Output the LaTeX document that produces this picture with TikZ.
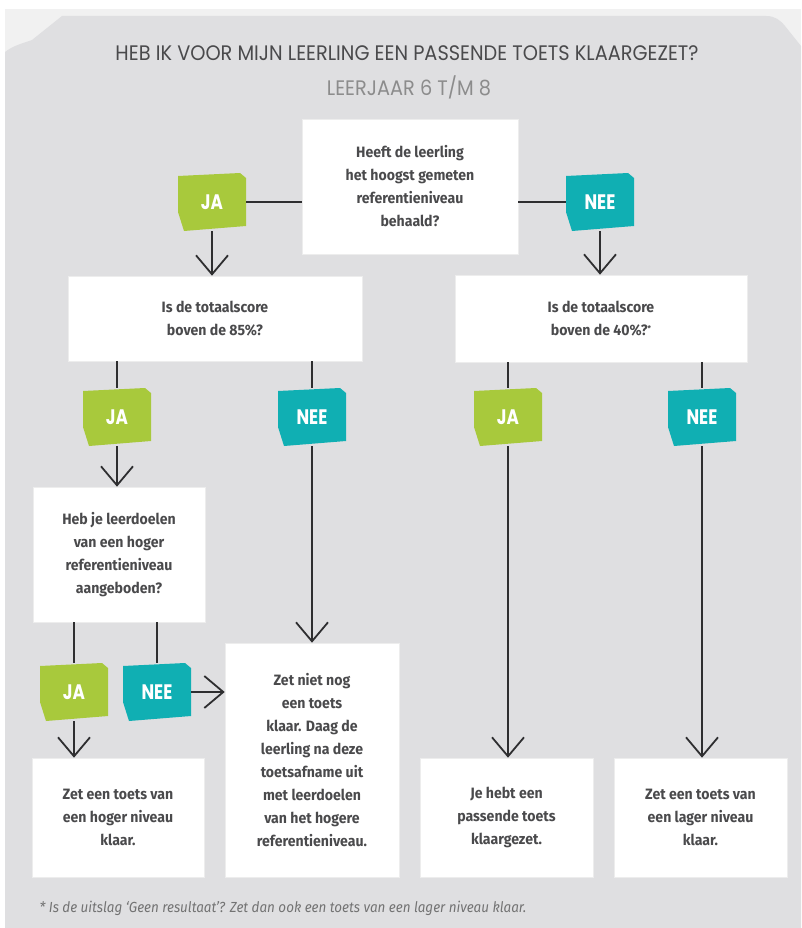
\documentclass[tikz,border=0pt]{standalone}
\usepackage{fontspec}
\setmainfont{Fira Sans}[FakeStretch=0.94]
\newfontfamily\titlefont{Poppins}[FakeStretch=0.92]
\newfontfamily\tagfont{Poppins}[FakeStretch=0.8]
\newfontfamily\notefont{Fira Sans}[FakeStretch=0.92]
\usetikzlibrary{arrows.meta,calc}
\definecolor{outerbg}{HTML}{F1F1F1}
\definecolor{innerbg}{HTML}{DFDFE1}
\definecolor{jagreen}{HTML}{A8C93C}
\definecolor{neeteal}{HTML}{10AFB3}
\definecolor{txt}{HTML}{4A4A4C}
\definecolor{ln}{HTML}{2E2E30}
\tikzset{
  qbox/.style={fill=white, draw=black!7, line width=0.6pt, inner sep=0pt, align=center,
    text=txt, font=\fontsize{15}{23}\selectfont\bfseries},
  tagtext/.style={inner sep=0pt, minimum width=68pt, minimum height=58pt,
    text=white, font=\tagfont\fontsize{21}{21}\selectfont\bfseries},
  conn/.style={draw=ln, line width=1.8pt},
  arr/.style={conn, -{Straight Barb[length=19pt,width=32pt,line width=1.8pt]}},
}
\newcommand\flowtag[4]{%
  \fill[#4] ($(#2)+(-34,-26)$) -- ($(#2)+(28,-29)$) -- ($(#2)+(34,-24)$) -- ($(#2)+(34,24)$)
     -- ($(#2)+(-28,29)$) -- ($(#2)+(-34,10)$) -- cycle;
  \node[tagtext] (#1) at (#2) {#3};}
\begin{document}
\begin{tikzpicture}[x=1pt,y=-1pt]
\useasboundingbox (0,0) rectangle (801,928);
\fill[white] (0,0) rectangle (801,928);
\fill[outerbg] (5,9) rectangle (801,928);
\fill[innerbg] (5,52) .. controls (14,45) and (24,43) .. (32,40) -- (62,16) -- (766,16)
  .. controls (775,16) and (780,20) .. (785,26) -- (801,46) -- (801,928) -- (5,928) -- cycle;

\node[text=txt, font=\titlefont\fontsize{21}{21}\selectfont] (title) at (407,53)
  {HEB IK VOOR MIJN LEERLING EEN PASSENDE TOETS KLAARGEZET?};
\node[text=black!45, font=\titlefont\fontsize{21}{21}\selectfont] (sub) at (409,87)
  {LEERJAAR 6 T/M 8};

\node[qbox, minimum width=216pt, minimum height=135pt] (q1) at (410,186.5)
  {Heeft de leerling\\het hoogst gemeten\\referentieniveau\\behaald?};
\node[qbox, minimum width=294pt, minimum height=85pt] (q2) at (215,318.5)
  {Is de totaalscore\\boven de 85\%?};
\node[qbox, minimum width=292pt, minimum height=87pt] (q3) at (601,318.5)
  {Is de totaalscore\\boven de 40\%?\raisebox{0.45ex}{\fontsize{8}{8}\selectfont*}};
\node[qbox, minimum width=172pt, minimum height=135pt] (q4) at (119,554.5)
  {Heb je leerdoelen\\van een hoger\\referentieniveau\\aangeboden?};
\node[qbox, minimum width=174pt, minimum height=234pt] (r1) at (312,760)
  {Zet niet nog\\een toets\\klaar. Daag de\\leerling na deze\\toetsafname uit\\met leerdoelen\\van het hogere\\referentieniveau.};
\node[qbox, minimum width=172pt, minimum height=119pt] (r2) at (118,817.5)
  {Zet een toets van\\een hoger niveau\\klaar.};
\node[qbox, minimum width=173pt, minimum height=119pt] (r3) at (506.5,817.5)
  {Je hebt een\\passende toets\\klaargezet.};
\node[qbox, minimum width=173pt, minimum height=119pt] (r4) at (700.5,817.5)
  {Zet een toets van\\een lager niveau\\klaar.};

\flowtag{ja1}{212,202}{JA}{jagreen}
\flowtag{nee1}{600,202}{NEE}{neeteal}
\flowtag{ja2}{117,417}{JA}{jagreen}
\flowtag{nee2}{312,417}{NEE}{neeteal}
\flowtag{ja3}{508,417}{JA}{jagreen}
\flowtag{nee3}{702,417}{NEE}{neeteal}
\flowtag{ja4}{74,692}{JA}{jagreen}
\flowtag{nee4}{157,692}{NEE}{neeteal}

% top level
\draw[conn] (ja1.east) -- (ja1.east -| q1.west);
\draw[conn] (nee1.west) -- (nee1.west -| q1.east);
\draw[arr] (ja1.south) -- (ja1.south |- q2.north);
\draw[arr] (nee1.south) -- (nee1.south |- q3.north);
% second level
\draw[conn] (ja2.north |- q2.south) -- (ja2.north);
\draw[conn] (nee2.north |- q2.south) -- (nee2.north);
\draw[conn] (ja3.north |- q3.south) -- (ja3.north);
\draw[conn] (nee3.north |- q3.south) -- (nee3.north);
\draw[arr] (ja2.south) -- (ja2.south |- q4.north);
\draw[arr] (nee2.south) -- (nee2.south |- r1.north);
\draw[arr] (ja3.south) -- (ja3.south |- r3.north);
\draw[arr] (nee3.south) -- (nee3.south |- r4.north);
% third level
\draw[conn] (ja4.north |- q4.south) -- (ja4.north);
\draw[conn] (nee4.north |- q4.south) -- (nee4.north);
\draw[arr] (ja4.south) -- (ja4.south |- r2.north);
\draw[arr] (nee4.east) -- (nee4.east -| r1.west);

\node[anchor=west, text=black!55, font=\notefont\fontsize{14.6}{14.6}\selectfont\itshape] (fn) at (36,908)
  {* Is de uitslag ‘Geen resultaat’? Zet dan ook een toets van een lager niveau klaar.};
\end{tikzpicture}
\end{document}
